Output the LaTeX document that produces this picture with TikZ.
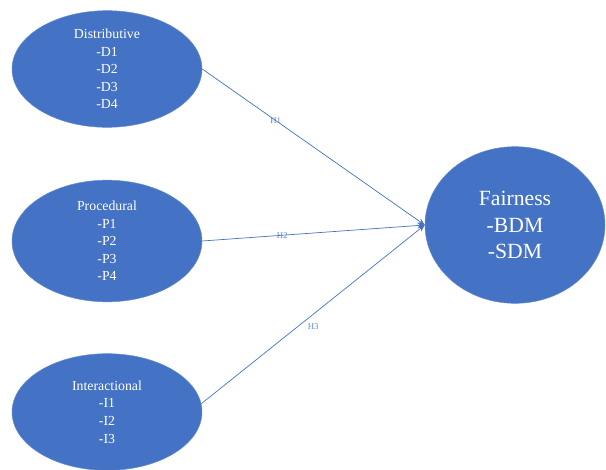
\documentclass[tikz,border=0pt]{standalone}
\usepackage{fontspec}
\setmainfont{Liberation Serif}
\usepackage{tikz}
\usetikzlibrary{shapes,arrows.meta}
\usepackage{xcolor}
\definecolor{fblue}{HTML}{4472C4}

\begin{document}
\begin{tikzpicture}[x=0.03cm,y=-0.03cm,
	construct/.style={ellipse,fill=fblue,draw=fblue!80!white,text=white,align=center,inner sep=0pt,minimum width=5.7cm,minimum height=3.5cm,font=\fontsize{11.8}{15}\selectfont},
	path/.style={fblue,line width=0.6pt,-{Stealth[length=6pt,width=5pt]}},
	hyp/.style={text=fblue!85!white,font=\fontsize{7.5}{8}\selectfont,inner sep=1pt}]
		\def\lx{107}
		\def\rx{515}
		\useasboundingbox (0,0) rectangle (606,470);
		% the three antecedents
		\node[construct] (dist) at (\lx,69) {Distributive\\-D1\\-D2\\-D3\\-D4};
		\node[construct,minimum height=3.65cm] (proc) at (\lx,241) {Procedural\\-P1\\-P2\\-P3\\-P4};
		\node[construct] (inter) at (\lx,412) {Interactional\\-I1\\-I2\\-I3};
		% outcome
		\node[construct,minimum width=5.4cm,minimum height=4.7cm,font=\fontsize{18.5}{22.5}\selectfont] (fair) at (\rx,225) {Fairness\\-BDM\\-SDM};
		% hypotheses
		\draw[path] (dist.east) -- node[pos=0.33,hyp] {H1} (fair.west);
		\draw[path] (proc.east) -- node[pos=0.36,hyp] {H2} (fair.west);
		\draw[path] (inter.5) -- node[pos=0.47,hyp,anchor=north west,yshift=-2pt] {H3} (fair.west);
		%\node[hyp] at (305,333) {H3};
\end{tikzpicture}
\end{document}
